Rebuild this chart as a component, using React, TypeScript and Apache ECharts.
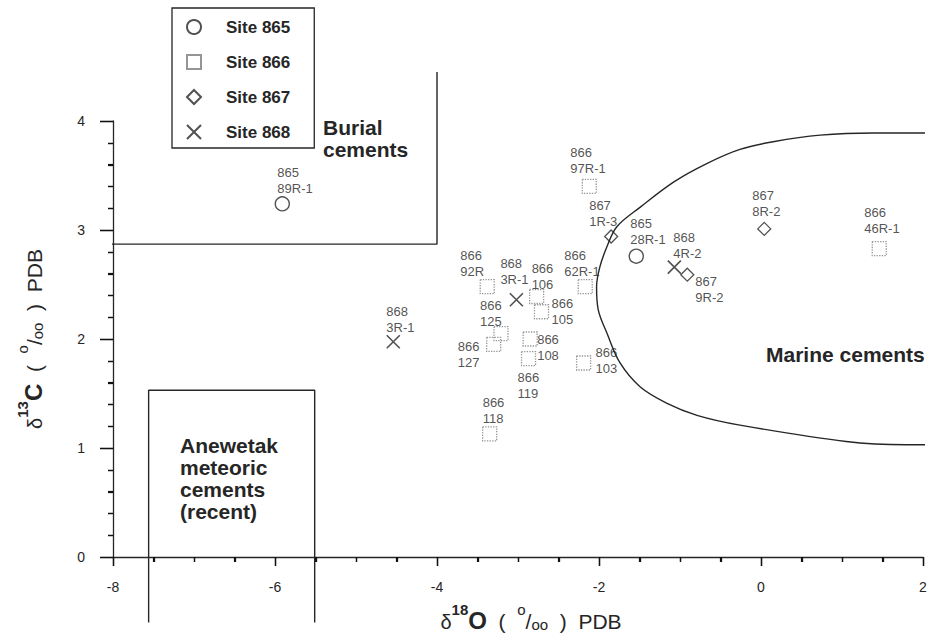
import React, { useEffect, useRef } from "react";
import * as echarts from "echarts";

// ---- data ----
const site865X = [-5.91, -1.54];
const site865Y = [3.24, 2.76];
const site865Labels = ["865\n89R-1", "865\n28R-1"];

const site866X = [-2.12, -2.17, -3.38, -2.77, -2.71, -3.21, -3.3, -2.85, -2.87, -2.19, -3.35, 1.46];
const site866Y = [3.4, 2.48, 2.48, 2.39, 2.25, 2.05, 1.95, 2.0, 1.82, 1.78, 1.13, 2.83];
const site866Labels = [
  "866\n97R-1", "866\n62R-1", "866\n92R", "866\n106", "866\n105", "866\n125",
  "866\n127", "866\n108", "866\n119", "866\n103", "866\n118", "866\n46R-1",
];

const site867X = [-1.85, -0.91, 0.04];
const site867Y = [2.94, 2.59, 3.01];
const site867Labels = ["867\n1R-3", "867\n9R-2", "867\n8R-2"];

const site868X = [-4.54, -3.02, -1.07];
const site868Y = [1.975, 2.36, 2.66];
const site868Labels = ["868\n3R-1", "868\n3R-1", "868\n4R-2"];

const xTicks = [-8, -6, -4, -2, 0, 2];
const yTicks = [0, 1, 2, 3, 4];
const xMinorTicks = [-7.5, -7, -6.5, -5.5, -5, -4.5, -3.5, -3, -2.5, -1.5, -1, -0.5, 0.5, 1, 1.5];
const yMinorTicks = [0.2, 0.4, 0.6, 0.8, 1.2, 1.4, 1.6, 1.8, 2.2, 2.4, 2.6, 2.8, 3.2, 3.4, 3.6, 3.8];

// field boundaries (data coordinates)
const burialLineX = [-8.86, -4, -4];
const burialLineY = [2.87, 2.87, 4.45];
const anewetakX = [-7.56, -7.56, -5.51, -5.51];
const anewetakY = [-0.6, 1.53, 1.53, -0.6];
const marineX = [2.4, 2.28, 1.39, 0.73, 0.15, -0.26, -0.67, -1.08, -1.49, -1.78, -1.9, -1.99, -2.03, -2.01, -1.9, -1.74, -1.49, -1.16, -0.79, -0.26, 1.05, 1.79, 2.28, 2.4];
const marineY = [3.89, 3.89, 3.89, 3.87, 3.81, 3.74, 3.61, 3.44, 3.21, 3.03, 2.85, 2.66, 2.48, 2.27, 2.05, 1.78, 1.56, 1.41, 1.3, 1.21, 1.06, 1.03, 1.03, 1.03];

// label offsets (style, px from marker centre: left edge, top)
const off865 = [[-5, -39], [-6, -41]];
const off866 = [[-19, -42], [-21, -39], [-27, -39], [-5, -36], [10, -16], [-21, -36], [-36, -6], [7, -8], [-11, 11], [12, -18], [-7, -39], [-15, -44]];
const off867 = [[-22, -39], [8, -1], [-12, -41]];
const off868 = [[-7, -38], [-16, -44], [-1, -38]];

const FONT = '"Liberation Sans", Arial, Helvetica, sans-serif';
const INK = "#262626";
const TICK = "#111111";

function pts(xs: number[], ys: number[], labels: string[], offs: number[][]) {
  return xs.map((x, i) => ({
    value: [x, ys[i]],
    label: {
      show: true,
      formatter: labels[i],
      position: "inside",
      align: "left",
      verticalAlign: "top",
      offset: offs[i],
      fontSize: 13,
      lineHeight: 16,
      color: INK,
      fontFamily: FONT,
    },
  }));
}

function line(xs: number[], ys: number[], smooth = false) {
  return {
    type: "line",
    data: xs.map((x, i) => [x, ys[i]]),
    showSymbol: false,
    symbol: "none",
    smooth: smooth ? 0.35 : false,
    clip: false,
    silent: true,
    lineStyle: { color: INK, width: 1.4 },
    z: 1,
  };
}

const titleRich = {
  d: { fontSize: 20, lineHeight: 30, verticalAlign: "bottom", color: INK },
  sup: { fontSize: 15, fontWeight: "bold", lineHeight: 15, verticalAlign: "top", color: INK },
  b: { fontSize: 24, fontWeight: "bold", lineHeight: 30, verticalAlign: "bottom", color: INK },
  n: { fontSize: 21, lineHeight: 30, verticalAlign: "bottom", color: INK },
  po: { fontSize: 15, lineHeight: 15, verticalAlign: "top", color: INK },
  sl: { fontSize: 21, lineHeight: 30, verticalAlign: "bottom", color: INK },
  pb: { fontSize: 15, lineHeight: 30, verticalAlign: "bottom", color: INK },
};

// tick marks drawn through the axes' own scales: [value, kind]
// kind 0: x major, 1: x minor, 2: y major, 3: y minor
const tickData = [
  ...xTicks.map((v) => [v, 0]),
  ...xMinorTicks.map((v) => [v, 1]),
  ...yTicks.map((v) => [v, 2]),
  ...yMinorTicks.map((v) => [v, 3]),
];

export default function App() {
  const ref = useRef<HTMLDivElement>(null);
  useEffect(() => {
    if (!ref.current) return;
    const chart = echarts.init(ref.current, undefined, { renderer: "svg" });
    const scatterBase = { type: "scatter", z: 3, emphasis: { disabled: true } };
    chart.setOption({
      animation: false,
      textStyle: { fontFamily: FONT, color: INK },
      grid: { left: 113, right: 23, top: 121, bottom: 84 },
      legend: {
        data: ["Site 865", "Site 866", "Site 867", "Site 868"],
        orient: "vertical",
        left: 172,
        top: 8,
        itemWidth: 14,
        itemHeight: 14,
        itemGap: 15,
        padding: [9, 24, 6, 14],
        borderColor: INK,
        borderWidth: 1.3,
        textStyle: { fontSize: 17, fontWeight: "bold", color: INK, lineHeight: 20, padding: [0, 0, 0, 20], fontFamily: FONT },
      },
      xAxis: {
        type: "value",
        min: xTicks[0],
        max: xTicks[xTicks.length - 1],
        interval: 2,
        splitLine: { show: false },
        axisLine: { show: true, onZero: false, lineStyle: { color: INK, width: 1.3 } },
        axisTick: { show: true, length: 9, lineStyle: { color: TICK, width: 1.3 } },
        minorTick: { show: true, splitNumber: 4, length: 5, lineStyle: { color: TICK, width: 1.2 } },
        axisLabel: { fontSize: 14, color: INK, margin: 23 },
        name: "{d|δ}{sup|18}{b|O}{n|  (  }{po|o}{sl|/}{pb|oo}{n|  )  PDB}",
        nameLocation: "middle",
        nameGap: 45,
        nameTextStyle: { padding: [0, 0, 0, 26], rich: titleRich },
      },
      yAxis: {
        type: "value",
        min: yTicks[0],
        max: yTicks[yTicks.length - 1],
        interval: 1,
        splitLine: { show: false },
        axisLine: { show: true, onZero: false, lineStyle: { color: INK, width: 1.3 } },
        axisTick: { show: true, length: 13, lineStyle: { color: TICK, width: 1.3 } },
        minorTick: { show: true, splitNumber: 5, length: 5, lineStyle: { color: TICK, width: 1.2 } },
        axisLabel: { fontSize: 14, color: INK, margin: 28 },
        name: "{d|δ}{sup|13}{b|C}{n|  (  }{po|o}{sl|/}{pb|oo}{n|  )  PDB}",
        nameLocation: "middle",
        nameRotate: 90,
        nameGap: 50,
        nameTextStyle: { padding: [0, 0, 18, 0], rich: titleRich },
      },
      graphic: [
        { type: "text", left: 323, top: 116, style: { text: "Burial\ncements", fontSize: 21, fontWeight: "bold", lineHeight: 22, fill: INK, fontFamily: FONT } },
        { type: "text", left: 180, top: 434, style: { text: "Anewetak\nmeteoric\ncements\n(recent)", fontSize: 21, fontWeight: "bold", lineHeight: 22, fill: INK, fontFamily: FONT } },
        { type: "text", left: 766, top: 343, style: { text: "Marine cements", fontSize: 21, fontWeight: "bold", lineHeight: 22, fill: INK, fontFamily: FONT } },
      ],
      series: [
        line(burialLineX, burialLineY),
        line(anewetakX, anewetakY),
        line(marineX, marineY, true),
        {
          type: "custom",
          silent: true,
          clip: false,
          z: 2,
          data: tickData,
          renderItem: (_params: any, api: any) => {
            const v = api.value(0);
            const k = api.value(1);
            if (k < 2) {
              const p = api.coord([v, yTicks[0]]);
              const len = k === 0 ? 9 : 5;
              return {
                type: "line",
                shape: { x1: Math.round(p[0]) + 0.5, y1: p[1], x2: Math.round(p[0]) + 0.5, y2: p[1] + len },
                style: { stroke: TICK, lineWidth: 1.3 },
              };
            }
            const p = api.coord([xTicks[0], v]);
            const len = k === 2 ? 13 : 5;
            return {
              type: "line",
              shape: { x1: p[0] - len, y1: Math.round(p[1]) + 0.5, x2: p[0], y2: Math.round(p[1]) + 0.5 },
              style: { stroke: TICK, lineWidth: 1.3 },
            };
          },
        },
        {
          ...scatterBase,
          name: "Site 865",
          symbol: "circle",
          symbolSize: 14,
          itemStyle: { color: "rgba(0,0,0,0)", borderColor: INK, borderWidth: 1.4 },
          data: pts(site865X, site865Y, site865Labels, off865),
        },
        {
          ...scatterBase,
          name: "Site 866",
          symbol: "rect",
          symbolSize: 14,
          itemStyle: { color: "rgba(0,0,0,0)", borderColor: "#7a7a7a", borderWidth: 1.3, borderType: "dotted" },
          data: pts(site866X, site866Y, site866Labels, off866),
        },
        {
          ...scatterBase,
          name: "Site 867",
          symbol: "diamond",
          symbolSize: 13,
          itemStyle: { color: "rgba(0,0,0,0)", borderColor: INK, borderWidth: 1.3 },
          data: pts(site867X, site867Y, site867Labels, off867),
        },
        {
          ...scatterBase,
          name: "Site 868",
          symbol: "path://M0,0L10,10M10,0L0,10",
          symbolSize: 13,
          itemStyle: { color: "rgba(0,0,0,0)", borderColor: INK, borderWidth: 1.6 },
          data: pts(site868X, site868Y, site868Labels, off868),
        },
      ],
    });
    return () => chart.dispose();
  }, []);
  return (
    <div
      ref={ref}
      style={{ position: "fixed", left: 0, top: 0, width: 946, height: 641, background: "#fff" }}
    />
  );
}
